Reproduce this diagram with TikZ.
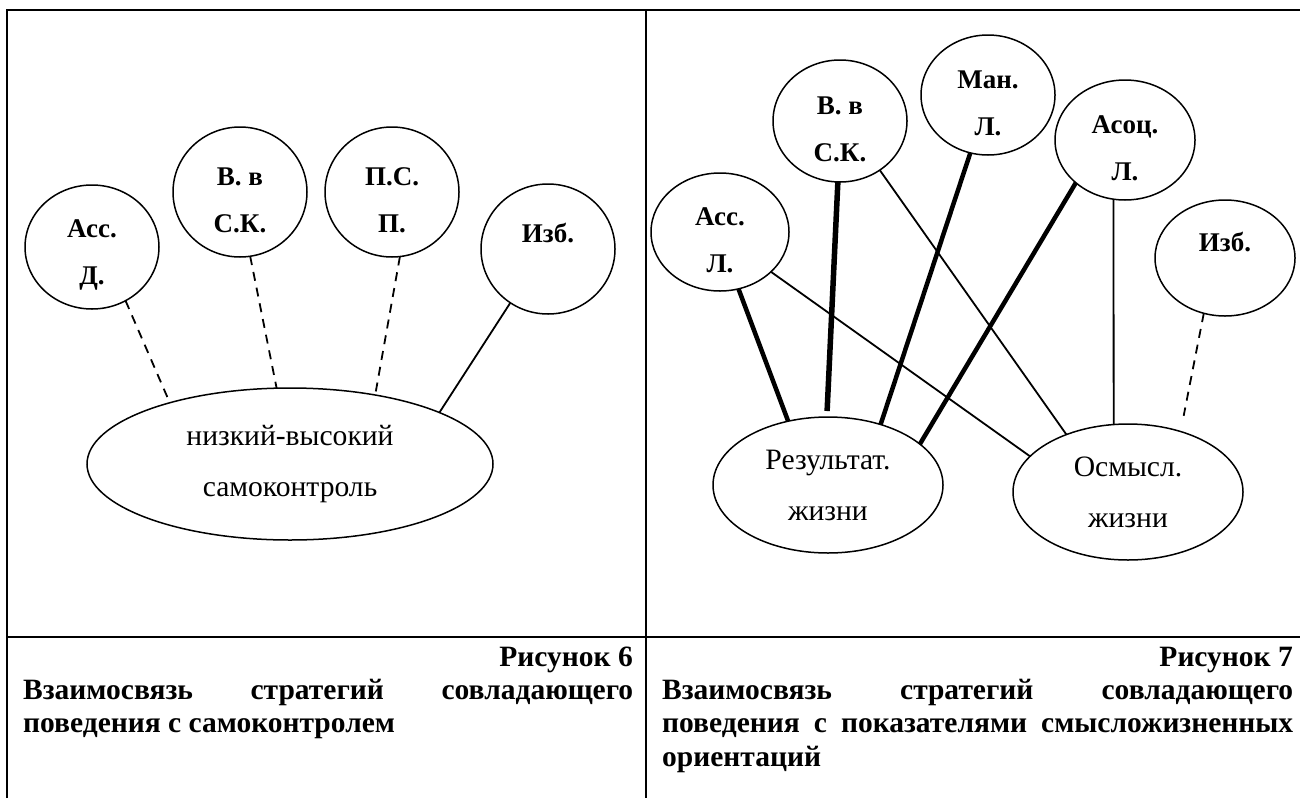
\documentclass[tikz,border=0pt]{standalone}
\usepackage{fontspec}
\setmainfont{Liberation Serif}
\usetikzlibrary{shapes.geometric}
\hyphenpenalty=10000
\exhyphenpenalty=10000

\begin{document}
\begin{tikzpicture}[x=1pt,y=-1pt,
                    strategy node/.style={ellipse,draw,line width=1.5pt,inner sep=0pt,outer sep=0pt,
                      align=center,text height=81pt,font=\bfseries\fontsize{27}{47}\selectfont},
                    index node/.style={ellipse,draw,line width=1.5pt,inner sep=0pt,outer sep=0pt,
                      align=center,font=\fontsize{29.6}{51}\selectfont},
                    table line/.style={line width=2.2pt},
                    thin link/.style={line width=1.8pt},
                    thick link/.style={line width=4.5pt},
                    heavy link/.style={line width=5.5pt},
                    dash link/.style={line width=1.8pt,dash pattern=on 9pt off 7pt},
                    caption/.style={font=\bfseries\fontsize{29.5}{33.7}\selectfont,inner sep=0pt}]

  \useasboundingbox (0,0) rectangle (1300,798);

  %table%
  \draw[table line] (7,798) -- (7,10) -- (1300,10);
  \draw[table line] (646,10) -- (646,798);
  \draw[table line] (7,637) -- (1300,637);

  %figure 6%
  \node[strategy node,minimum width=134pt,minimum height=124pt] (assd) at (92,247) {Асс.\\Д.};
  \node[strategy node,minimum width=134pt,minimum height=130pt] (vvsk) at (240,192) {В. в\\С.К.};
  \node[strategy node,minimum width=134pt,minimum height=130pt] (psp) at (392,192) {П.С.\\П.};
  \node[strategy node,minimum width=134pt,minimum height=130pt] (izbl) at (548,249) {Изб.\\~};
  \node[index node,minimum width=406pt,minimum height=152pt] (lowhigh) at (290,464) {низкий-высокий\\самоконтроль};

  \path (assd.-58) edge[dash link] (lowhigh.153)
        (vvsk.-81) edge[dash link] (lowhigh.100)
        (psp.-83) edge[dash link] (lowhigh.39)
        (izbl.-125) edge[thin link] (lowhigh.19);

  %figure 7%
  \node[strategy node,minimum width=138pt,minimum height=118pt] (assl) at (720,232) {Асс.\\Л.};
  \node[strategy node,minimum width=134pt,minimum height=122pt] (vvskr) at (840,121) {В. в\\С.К.};
  \node[strategy node,minimum width=134pt,minimum height=120pt] (manl) at (988,95) {Ман.\\Л.};
  \node[strategy node,minimum width=140pt,minimum height=120pt] (asocl) at (1125,140) {Асоц.\\Л.};
  \node[strategy node,minimum width=140pt,minimum height=116pt] (izbr) at (1225,258) {Изб.\\~};
  \node[index node,minimum width=230pt,minimum height=136pt] (res) at (828,485) {Результат.\\жизни};
  \node[index node,minimum width=230pt,minimum height=136pt] (osm) at (1128,492) {Осмысл.\\жизни};

  \path (assl.-72) edge[thick link] (res.122)
        (assl.-38) edge[thin link] (osm.160)
        (vvskr.-92) edge[heavy link,shorten >=6pt] (res.91)
        (vvskr.-51) edge[thin link] (osm.137)
        (manl.-107) edge[thick link] (res.49)
        (asocl.-139) edge[thick link] (res.24)
        (asocl.-101) edge[thin link] (osm.102)
        (izbr.-111) edge[dash link,shorten >=16pt] (osm.49);

  %captions%
  \node[caption,anchor=base east] (num6) at (633,666) {Рисунок 6};
  \node[caption,anchor=base west,text width=610pt,align=justify] (text6) at (23,699)
    {Взаимосвязь стратегий совладающего\linebreak поведения с самоконтролем};
  \node[caption,anchor=base east] (num7) at (1293,666) {Рисунок 7};
  \node[caption,anchor=base west,text width=631pt,align=justify] (text7) at (662,699)
    {Взаимосвязь стратегий совладающего\linebreak поведения с показателями смысложизненных\linebreak ориентаций};
\end{tikzpicture}
\end{document}
